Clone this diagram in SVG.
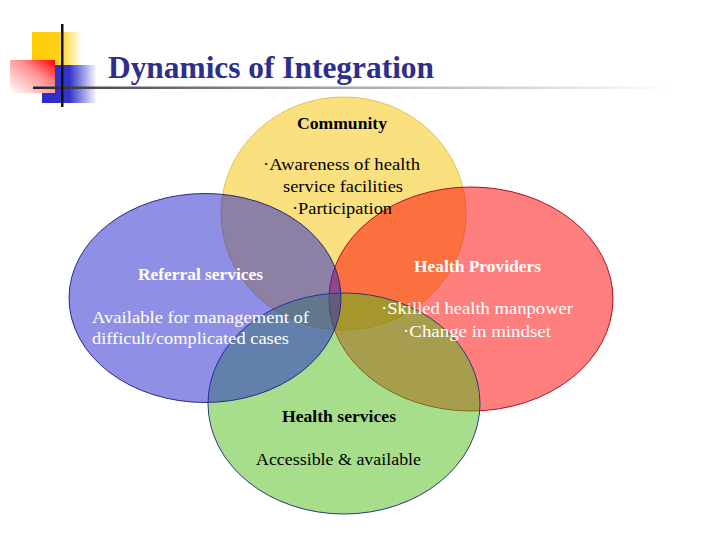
<svg xmlns="http://www.w3.org/2000/svg" width="720" height="540" viewBox="0 0 720 540">
<defs>
<linearGradient id="gYel" x1="0" y1="0" x2="1" y2="0"><stop offset="0" stop-color="#FFCC00"/><stop offset="0.55" stop-color="#FFD21A"/><stop offset="1" stop-color="#FFFFFF"/></linearGradient>
<linearGradient id="gBlu" x1="0" y1="0" x2="1" y2="0"><stop offset="0" stop-color="#2A2AC8"/><stop offset="0.5" stop-color="#3434CC"/><stop offset="1" stop-color="#FFFFFF"/></linearGradient>
<linearGradient id="gRed" x1="0" y1="1" x2="1" y2="0"><stop offset="0" stop-color="#FFFFFF"/><stop offset="0.6" stop-color="#FF9090"/><stop offset="1" stop-color="#FF0000"/></linearGradient>
<linearGradient id="gLine" x1="0" y1="0" x2="1" y2="0"><stop offset="0" stop-color="#222222"/><stop offset="0.12" stop-color="#555555"/><stop offset="0.5" stop-color="#AAAAAA"/><stop offset="1" stop-color="#FFFFFF"/></linearGradient>
<style>
.lbl{font-family:"Liberation Serif","DejaVu Serif",serif;font-size:17px;}
.b{font-weight:bold;}
.w{fill:#FFFFFF;}
.k{fill:#000000;}
.ell{stroke-width:1;}
</style>
</defs>
<rect width="720" height="540" fill="#FFFFFF"/>
<g id="logo">
<rect x="32" y="32" width="50" height="33" fill="url(#gYel)"/>
<rect x="42" y="65" width="55" height="38" fill="url(#gBlu)"/>
<rect x="10" y="60" width="45" height="33" fill="url(#gRed)"/>
<rect x="33" y="86.5" width="640" height="2.5" fill="url(#gLine)"/>
<rect x="61" y="24" width="2.5" height="83" fill="#111111"/>
</g>
<g id="title">
<text x="108" y="78" font-family="'Liberation Serif','DejaVu Serif',serif" font-size="31" font-weight="bold" fill="#2E2E8C" textLength="326" lengthAdjust="spacingAndGlyphs">Dynamics of Integration</text>
</g>
<g id="shapes">
<ellipse id="community-shape" class="ell" cx="343.5" cy="213.5" rx="122.5" ry="116.5" fill="#FBE07F" stroke="#E6C24A"/>
<ellipse id="providers-shape" class="ell" cx="471" cy="299" rx="142" ry="112" fill="#FF0000" fill-opacity="0.5" stroke="#B01020"/>
<ellipse id="services-shape" class="ell" cx="344" cy="403.5" rx="136" ry="110.5" fill="#4DBD19" fill-opacity="0.5" stroke="#2A3A80"/>
<ellipse id="referral-shape" class="ell" cx="205" cy="298" rx="136" ry="104.5" fill="#2020CC" fill-opacity="0.5" stroke="#2A2A80"/>
</g>
<g id="community">
<text class="lbl b k" x="297" y="129" textLength="90" lengthAdjust="spacingAndGlyphs">Community</text>
<text class="lbl k" x="263" y="170" textLength="157" lengthAdjust="spacingAndGlyphs">·Awareness of health</text>
<text class="lbl k" x="283" y="192" textLength="120" lengthAdjust="spacingAndGlyphs">service facilities</text>
<text class="lbl k" x="292" y="214" textLength="100" lengthAdjust="spacingAndGlyphs">·Participation</text>
</g>
<g id="referral">
<text class="lbl b w" x="138" y="280" textLength="125" lengthAdjust="spacingAndGlyphs">Referral services</text>
<text class="lbl w" x="92" y="323" textLength="217" lengthAdjust="spacingAndGlyphs">Available for management of</text>
<text class="lbl w" x="92" y="344" textLength="197" lengthAdjust="spacingAndGlyphs">difficult/complicated cases</text>
</g>
<g id="providers">
<text class="lbl b w" x="414" y="272" textLength="127" lengthAdjust="spacingAndGlyphs">Health Providers</text>
<text class="lbl w" x="381" y="314" textLength="192" lengthAdjust="spacingAndGlyphs">·Skilled health manpower</text>
<text class="lbl w" x="403" y="337" textLength="148" lengthAdjust="spacingAndGlyphs">·Change in mindset</text>
</g>
<g id="services">
<text class="lbl b k" x="282" y="422" textLength="114" lengthAdjust="spacingAndGlyphs">Health services</text>
<text class="lbl k" x="256" y="465" textLength="165" lengthAdjust="spacingAndGlyphs">Accessible &amp; available</text>
</g>
<g id="connectors"/>
</svg>
